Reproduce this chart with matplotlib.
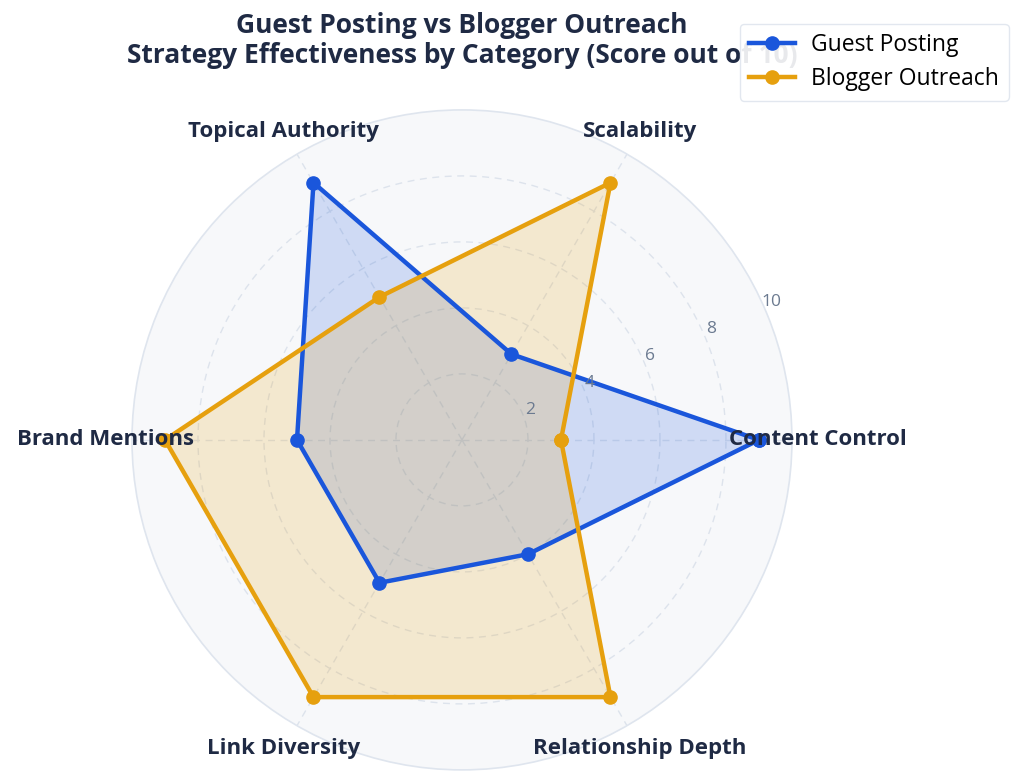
import numpy as np
import matplotlib
matplotlib.use("Agg")
import matplotlib.pyplot as plt

plt.rcParams['font.family'] = ['Open Sans', 'DejaVu Sans']

categories = ["Content Control", "Scalability", "Topical Authority",
              "Brand Mentions", "Link Diversity", "Relationship Depth"]
guest_posting = [9, 3, 9, 5, 5, 4]
blogger_outreach = [3, 9, 5, 9, 9, 9]
r_ticks = [2, 4, 6, 8, 10]
title_text = "Guest Posting vs Blogger Outreach\nStrategy Effectiveness by Category (Score out of 10)"

BLUE = "#1a56db"
ORANGE = "#e6a00e"
NAVY = "#1f2a44"
SLATE = "#6b7a90"

n = len(categories)
angles = np.deg2rad(np.arange(n) * 360.0 / n)

fig = plt.figure(figsize=(10.24, 7.84), dpi=100)
ax = fig.add_axes([0.1289, 0.0179, 0.6445, 0.842], projection='polar')
ax.set_facecolor("#f7f8fa")
ax.set_ylim(0, 10)
ax.set_theta_zero_location("E")
ax.set_theta_direction(1)

ax.set_xticks(angles)
ax.set_xticklabels([])
ax.set_yticks(r_ticks[:-1])
ax.set_yticklabels([])
ax.grid(True, color="#dde3ec", linestyle=(0, (5, 4)), linewidth=1.0)
ax.spines['polar'].set_color("#dfe5ee")
ax.spines['polar'].set_linewidth(1.2)
ax.tick_params(axis='both', length=0)

for vals, color, label in [(guest_posting, BLUE, "Guest Posting"),
                           (blogger_outreach, ORANGE, "Blogger Outreach")]:
    th = np.concatenate([angles, angles[:1]])
    rv = np.concatenate([vals, vals[:1]])
    ax.fill(th, rv, color=color, alpha=0.18, zorder=2, linewidth=0)
    ax.plot(th, rv, color=color, linewidth=3.2, marker='o', markersize=9.5,
            label=label, zorder=3)

# radial tick labels
lab_ang = np.deg2rad(24)
for t in r_ticks:
    ax.text(lab_ang, t + 0.25, str(t), color=SLATE, fontsize=12.5,
            ha='center', va='center', zorder=5)

# category labels
for a, c in zip(angles, categories):
    ax.text(a, 10.8, c, color=NAVY, fontsize=16, fontweight='bold',
            ha='center', va='center', clip_on=False, zorder=6)

fig.text(0.451, 0.948, title_text, ha='center', va='center', fontsize=19,
         fontweight='bold', color=NAVY, linespacing=1.13)

leg = fig.legend(loc='upper right', bbox_to_anchor=(0.985, 0.97), fontsize=16.5,
                 frameon=True, fancybox=True, handlelength=2.0, borderpad=0.42,
                 labelspacing=0.45, handletextpad=0.7, borderaxespad=0.0)
leg.get_frame().set_edgecolor("#dfe5ee")
leg.get_frame().set_linewidth(1.0)
leg.get_frame().set_alpha(0.9)
leg.set_zorder(10)

fig.savefig("out.png", dpi=100)
